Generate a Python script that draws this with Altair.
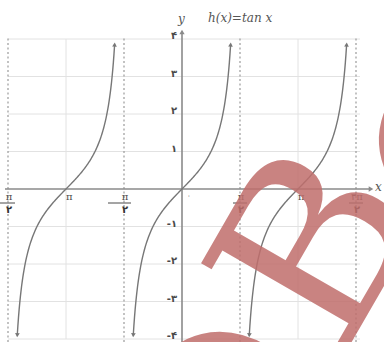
import numpy as np
import pandas as pd
import altair as alt

PI = np.pi

# ---- data -----------------------------------------------------------
branch_centers = [-PI, 0.0, PI]          # centres of the three tan branches
curve_y_top = 3.85                        # where each branch stops (arrow tips)
curve_y_bottom = -3.9
asymptotes = [-1.5 * PI, -0.5 * PI, 0.5 * PI, 1.5 * PI]
grid_x_solid = [-PI, PI]
grid_y = [-4, -3, -2, -1, 1, 2, 3, 4]

ytick_values = [4, 3, 2, 1, -1, -2, -3, -4]
ytick_labels = ["۴", "۳", "۲", "۱", "-۱", "-۲", "-۳", "-۴"]

whole_pi_ticks = [-PI, PI]
whole_pi_labels = ["π", "π"]
frac_ticks = [-1.5 * PI, -0.5 * PI, 0.5 * PI, 1.5 * PI]
frac_numerators = ["π", "π", "π", "۳π"]
frac_denominators = ["۲", "۲", "۲", "۲"]
frac_negative = [1, 1, 0, 0]

title_text = "h(x)=tan x"
watermark_letters = ["O", "B", "O"]

# ---- scales (plot area = whole 384x342 window) ----------------------
W, H = 384, 342
PX_X = 116 / PI          # pixels per unit along x
PX_Y = 37.5              # pixels per unit along y
X0, Y0 = 182, 189        # pixel position of the origin
xdom = [-X0 / PX_X, (W - X0) / PX_X]
ydom = [-(H - Y0) / PX_Y, Y0 / PX_Y]
xs = alt.Scale(domain=xdom, nice=False, zero=False)
ys = alt.Scale(domain=ydom, nice=False, zero=False)


def X(f):
    return alt.X(f, type="quantitative", scale=xs, axis=None)


def Y(f):
    return alt.Y(f, type="quantitative", scale=ys, axis=None)


def ux(px):
    return px / PX_X


def uy(px):
    return px / PX_Y


GRID = "#e2e2e2"
AXIS = "#8a8a8a"
CURVE = "#777777"
TEXT = "#4a4a4a"

# ---- curves ---------------------------------------------------------
rows = []
for i, c in enumerate(branch_centers):
    for t in np.linspace(np.arctan(curve_y_bottom), np.arctan(curve_y_top), 160):
        rows.append({"b": i, "x": c + t, "y": float(np.tan(t))})
curves = pd.DataFrame(rows)

arrow_rows = []
for i, c in enumerate(branch_centers):
    for yv, shape in [(curve_y_top, "triangle-up"), (curve_y_bottom, "triangle-down")]:
        slope_px = (1 + yv ** 2) * PX_Y / PX_X
        ang = float(np.degrees(np.arctan(1 / slope_px)))
        arrow_rows.append({"x": c + float(np.arctan(yv)), "y": yv, "shape": shape, "ang": ang})
arrows = pd.DataFrame(arrow_rows)

# grid lines
hg = pd.DataFrame({"y": grid_y})
hg["x1"] = asymptotes[0]
hg["x2"] = asymptotes[-1] + ux(4)
hgrid = alt.Chart(hg).mark_rule(color=GRID, strokeWidth=1).encode(
    x=X("x1"), x2="x2:Q", y=Y("y"))

vg = pd.DataFrame({"x": grid_x_solid, "y1": -4.0, "y2": 4.0})
vgrid = alt.Chart(vg).mark_rule(color=GRID, strokeWidth=1).encode(
    x=X("x"), y=Y("y1"), y2="y2:Q")

vd = pd.DataFrame({"x": asymptotes, "y1": ydom[0], "y2": 4.05})
vdots = alt.Chart(vd).mark_rule(color="#9a9a9a", strokeWidth=1.2, strokeDash=[2, 2.5]).encode(
    x=X("x"), y=Y("y1"), y2="y2:Q")

# axes
xa = pd.DataFrame({"x1": [xdom[0] + ux(5)], "x2": [xdom[1] - ux(14)], "y": [0.0]})
xaxis = alt.Chart(xa).mark_rule(color=AXIS, strokeWidth=1.6).encode(
    x=X("x1"), x2="x2:Q", y=Y("y"))
ya = pd.DataFrame({"x": [0.0], "y1": [ydom[0]], "y2": [ydom[1] - uy(34)]})
yaxis = alt.Chart(ya).mark_rule(color=AXIS, strokeWidth=1.6).encode(
    x=X("x"), y=Y("y1"), y2="y2:Q")
aa = pd.DataFrame({"x": [xdom[1] - ux(13), 0.0], "y": [0.0, ydom[1] - uy(32)], "ang": [90, 0]})
axis_arrows = alt.Chart(aa).mark_point(
    shape="triangle-up", filled=True, size=28, color=AXIS, opacity=1).encode(
    x=X("x"), y=Y("y"), angle=alt.Angle("ang:Q", scale=None))

# tan curves with arrow tips
lines = alt.Chart(curves).mark_line(color=CURVE, strokeWidth=1.4).encode(
    x=X("x"), y=Y("y"), detail="b:N", order="x:Q")
tips = alt.Chart(arrows).mark_point(filled=True, size=22, color=CURVE, opacity=1).encode(
    x=X("x"), y=Y("y"), shape=alt.Shape("shape:N", scale=None),
    angle=alt.Angle("ang:Q", scale=None))

# tick labels
yl = pd.DataFrame({"v": ytick_values, "t": ytick_labels, "x": 0.0})
ylab = alt.Chart(yl).mark_text(
    align="right", baseline="middle", font="DejaVu Sans", fontSize=10, fontWeight="bold",
    color=TEXT, dx=-5, dy=-3).encode(x=X("x"), y=Y("v"), text="t:N")

zl = pd.DataFrame({"x": [0.0], "y": [0.0], "t": ["۰"]})
zero_lab = alt.Chart(zl).mark_text(align="left", baseline="top", font="DejaVu Sans", fontSize=7,
                                   color=TEXT, dx=5, dy=3).encode(x=X("x"), y=Y("y"), text="t:N")

pl = pd.DataFrame({"x": whole_pi_ticks, "t": whole_pi_labels, "y": 0.0})
pi_lab = alt.Chart(pl).mark_text(
    align="left", baseline="top", font="DejaVu Serif", fontSize=10, color=TEXT, dx=0, dy=3).encode(
    x=X("x"), y=Y("y"), text="t:N")

fr = pd.DataFrame({"x": frac_ticks, "num": frac_numerators, "den": frac_denominators,
                   "neg": frac_negative})
fr["x1"] = fr["x"] - ux(7) - fr["neg"] * ux(9)
fr["x2"] = fr["x"] + ux(7)
fr["y"] = 0.0
fr["ybar"] = -uy(14)
num = alt.Chart(fr).mark_text(align="center", baseline="top", font="DejaVu Serif", fontSize=10,
                              color=TEXT, dy=3, dx=1).encode(x=X("x"), y=Y("y"), text="num:N")
bar = alt.Chart(fr).mark_rule(color=TEXT, strokeWidth=1).encode(
    x=X("x1"), x2="x2:Q", y=Y("ybar"))
den = alt.Chart(fr).mark_text(align="center", baseline="top", font="DejaVu Sans", fontSize=10,
                              fontWeight="bold", color="#333333", dy=16, dx=1).encode(
    x=X("x"), y=Y("y"), text="den:N")

# titles
names = pd.DataFrame({
    "t": [title_text, "y", "x"],
    "x": [ux(26), ux(-4), ux(193)],
    "y": [uy(171), uy(170), uy(2)],
})
name_text = alt.Chart(names).mark_text(
    font="DejaVu Serif", fontStyle="italic", fontSize=12, color="#555555",
    align="left", baseline="middle").encode(x=X("x"), y=Y("y"), text="t:N")

# stamp across the lower right
wm = pd.DataFrame({
    "t": watermark_letters,
    "x": [ux(58), ux(142), ux(298)],
    "y": [-uy(236), -uy(61), uy(39)],
    "size": [233, 233, 233],
})
stamp = alt.Chart(wm).mark_text(font="DejaVu Serif", color="#c06e6c", opacity=0.85,
                                angle=300, align="center", baseline="middle").encode(
    x=X("x"), y=Y("y"), text="t:N", size=alt.Size("size:Q", scale=None))

chart = alt.layer(
    hgrid, vgrid, vdots, xaxis, yaxis, axis_arrows, lines, tips,
    ylab, zero_lab, pi_lab, num, bar, den, name_text, stamp,
).properties(width=W, height=H, padding=0, autosize="none", background="white").configure_view(
    stroke=None)

chart.save("out.html", embed_options={"renderer": "svg", "actions": False})
